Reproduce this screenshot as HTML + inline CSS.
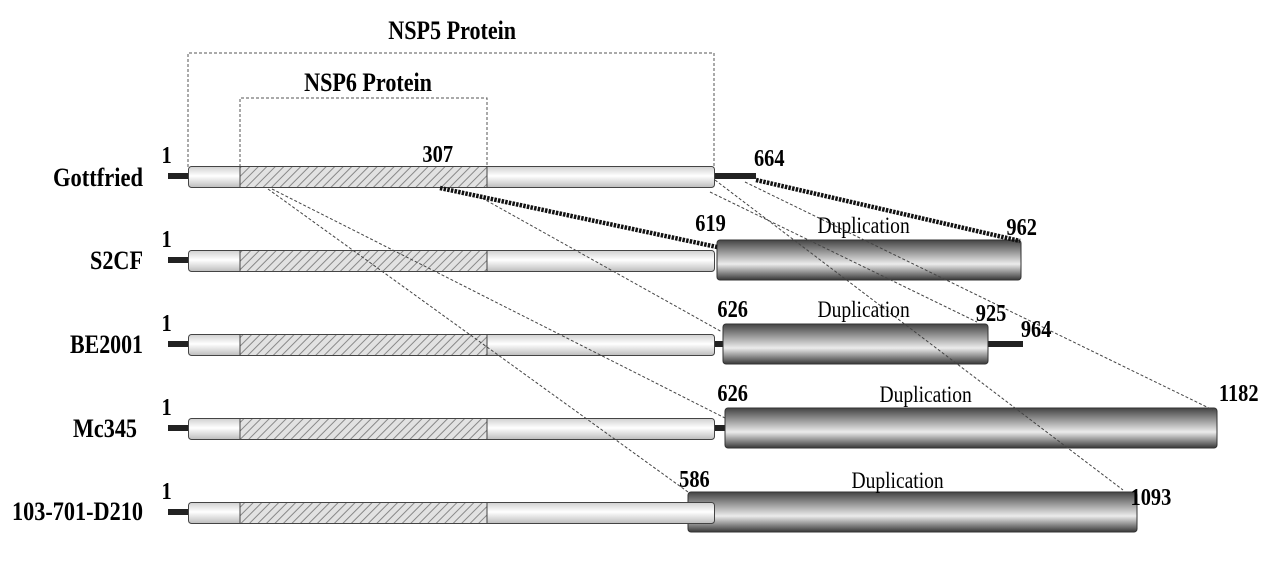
<!DOCTYPE html>
<html><head><meta charset="utf-8"><style>
html,body{margin:0;padding:0;background:#fff;}
svg{display:block;}
.lab{font-family:"Liberation Serif",serif;font-weight:bold;font-size:26px;fill:#000;}
.num{font-family:"Liberation Serif",serif;font-weight:bold;font-size:24px;fill:#000;}
.dup{font-family:"Liberation Serif",serif;font-size:23px;fill:#000;}
</style></head><body>
<svg width="1268" height="564" viewBox="0 0 1268 564" xmlns="http://www.w3.org/2000/svg">
<defs>
<linearGradient id="lg" x1="0" y1="0" x2="0" y2="1">
<stop offset="0" stop-color="#d0d0d0"/><stop offset="0.45" stop-color="#ffffff"/><stop offset="1" stop-color="#bdbdbd"/>
</linearGradient>
<linearGradient id="dg" x1="0" y1="0" x2="0" y2="1">
<stop offset="0" stop-color="#444"/><stop offset="0.6" stop-color="#ececec"/><stop offset="1" stop-color="#383838"/>
</linearGradient>
<pattern id="hatch" width="6" height="6" patternUnits="userSpaceOnUse" patternTransform="rotate(45)">
<rect width="6" height="6" fill="#e2e2e2"/><line x1="0" y1="0" x2="0" y2="6" stroke="#888" stroke-width="2"/>
</pattern>
</defs>

<g fill="none" stroke="#555" stroke-width="1" stroke-dasharray="3,2">
<polyline points="188,167 188,53 714,53 714,167"/>
<polyline points="240,167 240,98 487,98 487,167"/>
</g>
<g font-family="Liberation Serif,serif" font-weight="bold" font-size="26" transform="scale(0.85,1)">
<text x="532" y="39" text-anchor="middle" fill="#000">NSP5 Protein</text>
<text x="433" y="91" text-anchor="middle" fill="#000">NSP6 Protein</text>
</g>

<g class="lab">
<text x="53" y="186" textLength="90" lengthAdjust="spacingAndGlyphs">Gottfried</text>
<text x="90" y="269" textLength="53" lengthAdjust="spacingAndGlyphs">S2CF</text>
<text x="70" y="353" textLength="73" lengthAdjust="spacingAndGlyphs">BE2001</text>
<text x="73" y="437" textLength="64" lengthAdjust="spacingAndGlyphs">Mc345</text>
<text x="12" y="520" textLength="131" lengthAdjust="spacingAndGlyphs">103-701-D210</text>
</g>

<g>
<rect x="168" y="173" width="22" height="6" fill="#222"/>
<rect x="168" y="257" width="22" height="6" fill="#222"/>
<rect x="168" y="341" width="22" height="6" fill="#222"/>
<rect x="168" y="425" width="22" height="6" fill="#222"/>
<rect x="168" y="509" width="22" height="6" fill="#222"/>
</g>

<rect x="712" y="173" width="44" height="6" fill="#222"/>
<rect x="712" y="341" width="14" height="6" fill="#222"/>
<rect x="985" y="341" width="38" height="6" fill="#222"/>
<rect x="712" y="425" width="15" height="6" fill="#222"/>

<g stroke="#333" stroke-width="1">
<rect x="717" y="240" width="304" height="40" rx="3" fill="url(#dg)"/>
<rect x="723" y="324" width="265" height="40" rx="3" fill="url(#dg)"/>
<rect x="725" y="408" width="492" height="40" rx="3" fill="url(#dg)"/>
<rect x="688" y="492" width="449" height="40" rx="3" fill="url(#dg)"/>
</g>

<g stroke="#444" stroke-width="1">
<rect x="188.5" y="166.5" width="526" height="21" rx="3" fill="url(#lg)"/>
<rect x="240" y="166.5" width="247" height="21" fill="url(#hatch)"/>
<rect x="188.5" y="250.5" width="526" height="21" rx="3" fill="url(#lg)"/>
<rect x="240" y="250.5" width="247" height="21" fill="url(#hatch)"/>
<rect x="188.5" y="334.5" width="526" height="21" rx="3" fill="url(#lg)"/>
<rect x="240" y="334.5" width="247" height="21" fill="url(#hatch)"/>
<rect x="188.5" y="418.5" width="526" height="21" rx="3" fill="url(#lg)"/>
<rect x="240" y="418.5" width="247" height="21" fill="url(#hatch)"/>
<rect x="188.5" y="502.5" width="526" height="21" rx="3" fill="url(#lg)"/>
<rect x="240" y="502.5" width="247" height="21" fill="url(#hatch)"/>
</g>

<g stroke="#444" stroke-width="1" stroke-dasharray="3,2" fill="none">
<line x1="268" y1="189" x2="688" y2="492"/>
<line x1="272" y1="189" x2="725" y2="418"/>
<line x1="482" y1="198" x2="722" y2="332"/>
<line x1="715" y1="180" x2="1123" y2="490"/>
<line x1="710" y1="192" x2="977" y2="322"/>
<line x1="745" y1="182" x2="1213" y2="410"/>
</g>
<g stroke="#111" stroke-width="4.5" stroke-dasharray="2.5,1.2" fill="none">
<line x1="440" y1="188" x2="717" y2="247"/>
<line x1="756" y1="180" x2="1020" y2="241"/>
</g>

<g class="num" transform="scale(0.85,1)">
<text x="190" y="163">1</text>
<text x="190" y="247">1</text>
<text x="190" y="331">1</text>
<text x="190" y="415">1</text>
<text x="190" y="499">1</text>
<text x="497" y="162">307</text>
<text x="887" y="166">664</text>
<text x="818" y="231">619</text>
<text x="1184" y="235">962</text>
<text x="844" y="317">626</text>
<text x="1148" y="321">925</text>
<text x="1201" y="337">964</text>
<text x="844" y="401">626</text>
<text x="1434" y="401">1182</text>
<text x="799" y="487">586</text>
<text x="1330" y="505">1093</text>
</g>
<g class="dup" text-anchor="middle" transform="scale(0.85,1)">
<text x="1016" y="233">Duplication</text>
<text x="1016" y="317">Duplication</text>
<text x="1089" y="402">Duplication</text>
<text x="1056" y="488">Duplication</text>
</g>
</svg>
</body></html>
